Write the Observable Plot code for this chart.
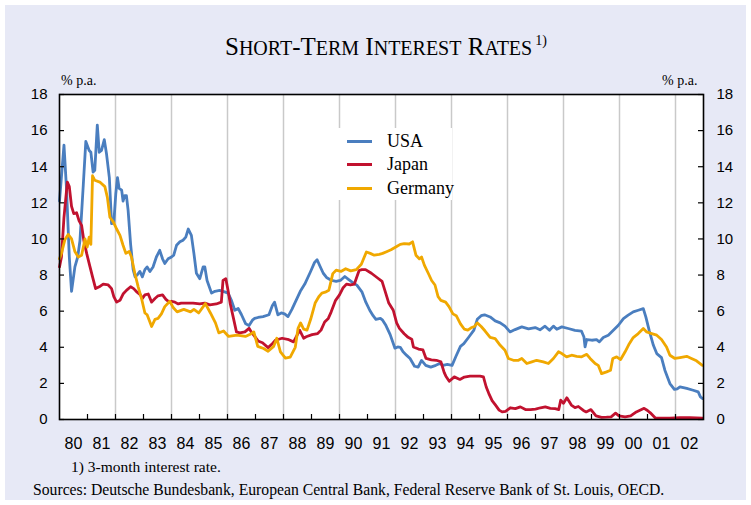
<!DOCTYPE html>
<html>
<head>
<meta charset="utf-8">
<script src="https://cdn.jsdelivr.net/npm/d3@7"></script>
<script src="https://cdn.jsdelivr.net/npm/@observablehq/plot@0.6"></script>
<style>
  body { margin: 0; background: #fff; }
  #wrap { position: relative; width: 751px; height: 505px; overflow: hidden; background: #fff; }
  #bg { position: absolute; left: 5px; top: 5px; width: 741px; height: 495px; background: #E7E9F6; }
  #chart { position: absolute; left: 0; top: 0; }
  .serif { font-family: "Liberation Serif", "Times New Roman", serif; color: #000; position: absolute; white-space: nowrap; }
  #title { left: 225px; top: 34px; font-size: 25px; line-height: 25px; }
  #title .sc { font-size: 20px; }
  #title sup { font-size: 14px; vertical-align: 10px; line-height: 0; margin-left: 3px; }
  .pa { font-size: 14px; top: 74px; line-height: 14px; }
  #legend { position: absolute; left: 338px; top: 128px; width: 114px; height: 72px; background: #fff; }
  .row { position: absolute; left: 0; width: 114px; height: 20px; }
  .sw { position: absolute; left: 9px; width: 25px; height: 3px; top: 9px; }
  .lt { position: absolute; left: 49px; top: 0; font-size: 18px; line-height: 20px; }
</style>
</head>
<body>
<div id="wrap">
  <div id="bg"></div>
  <div id="chart"></div>
  <div id="title" class="serif">S<span class="sc">HORT</span>-T<span class="sc">ERM</span> I<span class="sc">NTEREST</span> R<span class="sc">ATES</span><sup>1)</sup></div>
  <div class="serif pa" style="left:61px;">% p.a.</div>
  <div class="serif pa" style="left:662px;">% p.a.</div>
  <div id="legend"></div>
  <div class="serif" style="left:71px; top:459px; font-size:15.5px; line-height:16px;">1) 3-month interest rate.</div>
  <div class="serif" style="left:33px; top:481px; font-size:15.7px; line-height:17px;">Sources: Deutsche Bundesbank, European Central Bank, Federal Reserve Bank of St. Louis, OECD.</div>
</div>
<script>
// ---- data (decimal year, % p.a.) ----
const seriesNames = ["USA", "Japan", "Germany"];
const seriesColors = ["#4a7ebf", "#c1122f", "#f0a800"];

const usaDates = [1980.00,1980.16,1980.25,1980.35,1980.43,1980.55,1980.65,1980.73,1980.85,1980.94,1981.06,1981.12,1981.20,1981.26,1981.35,1981.42,1981.50,1981.60,1981.68,1981.78,1981.86,1981.94,1982.01,1982.07,1982.13,1982.22,1982.27,1982.33,1982.39,1982.45,1982.54,1982.63,1982.70,1982.77,1982.87,1982.96,1983.05,1983.13,1983.23,1983.34,1983.46,1983.58,1983.68,1983.76,1983.88,1984.00,1984.08,1984.18,1984.30,1984.41,1984.51,1984.60,1984.71,1984.80,1984.89,1985.01,1985.13,1985.19,1985.27,1985.43,1985.55,1985.72,1985.90,1986.02,1986.14,1986.26,1986.38,1986.50,1986.65,1986.77,1986.89,1986.97,1987.09,1987.27,1987.48,1987.60,1987.68,1987.80,1987.92,1988.04,1988.16,1988.30,1988.45,1988.60,1988.76,1988.96,1989.11,1989.20,1989.30,1989.42,1989.55,1989.72,1989.88,1990.03,1990.19,1990.33,1990.50,1990.62,1990.80,1990.94,1991.08,1991.20,1991.30,1991.46,1991.54,1991.66,1991.81,1991.98,1992.08,1992.17,1992.27,1992.40,1992.52,1992.68,1992.81,1992.93,1993.08,1993.26,1993.44,1993.58,1993.70,1993.85,1994.02,1994.16,1994.32,1994.44,1994.62,1994.80,1994.92,1995.06,1995.18,1995.38,1995.56,1995.74,1995.91,1996.09,1996.27,1996.51,1996.75,1996.99,1997.16,1997.34,1997.50,1997.64,1997.76,1997.94,1998.17,1998.41,1998.64,1998.73,1998.77,1998.83,1999.01,1999.18,1999.28,1999.42,1999.60,1999.78,1999.96,2000.14,2000.31,2000.49,2000.67,2000.85,2000.94,2001.06,2001.21,2001.33,2001.50,2001.62,2001.80,2001.96,2002.06,2002.16,2002.40,2002.63,2002.81,2002.89,2002.97];
const usaValues = [12.1,15.2,12.8,9.0,7.1,8.45,9.0,9.9,13.0,15.4,14.9,14.8,13.7,13.8,16.3,14.8,14.9,15.5,14.7,13.4,10.85,10.9,12.5,13.4,12.8,12.7,12.1,12.4,12.4,11.6,9.7,8.3,7.9,8.0,8.2,7.9,8.3,8.45,8.2,8.45,9.0,9.37,8.9,8.64,8.9,9.0,9.1,9.65,9.84,9.93,10.1,10.55,10.2,9.2,8.1,7.8,8.45,8.45,7.7,7.0,7.1,7.15,7.07,7.0,6.6,6.05,6.15,5.8,5.3,5.2,5.5,5.6,5.65,5.7,5.8,6.3,6.5,5.8,5.9,5.85,5.7,6.1,6.6,7.1,7.5,8.17,8.7,8.85,8.5,8.1,7.85,7.7,7.65,7.7,7.92,7.75,7.55,7.44,7.07,6.5,6.05,5.75,5.55,5.6,5.5,5.2,4.7,3.95,4.02,4.0,3.75,3.55,3.38,2.95,2.9,3.27,3.0,2.9,3.0,3.1,3.0,3.05,3.0,3.5,4.05,4.2,4.57,4.95,5.55,5.75,5.8,5.68,5.46,5.35,5.17,4.85,4.98,5.13,5.02,5.09,4.97,5.17,4.94,5.17,5.0,5.13,5.04,4.94,4.9,4.57,4.02,4.43,4.39,4.42,4.3,4.54,4.67,4.94,5.22,5.59,5.78,5.96,6.05,6.14,5.68,4.94,4.11,3.65,3.43,2.73,1.99,1.67,1.7,1.81,1.72,1.62,1.53,1.25,1.16];

const japanDates = [1980.00,1980.07,1980.16,1980.28,1980.35,1980.43,1980.51,1980.61,1980.70,1980.79,1980.87,1980.97,1981.09,1981.18,1981.29,1981.42,1981.56,1981.74,1981.86,1981.94,1982.04,1982.16,1982.27,1982.39,1982.54,1982.65,1982.77,1982.89,1982.96,1983.05,1983.17,1983.29,1983.41,1983.52,1983.68,1983.80,1983.92,1984.00,1984.12,1984.24,1984.35,1984.53,1984.77,1985.01,1985.19,1985.37,1985.60,1985.78,1985.84,1985.94,1986.02,1986.10,1986.20,1986.32,1986.44,1986.62,1986.77,1986.85,1986.97,1987.09,1987.25,1987.45,1987.60,1987.72,1987.95,1988.19,1988.36,1988.50,1988.58,1988.72,1988.81,1989.02,1989.22,1989.34,1989.47,1989.60,1989.70,1989.86,1990.00,1990.13,1990.25,1990.39,1990.53,1990.70,1990.80,1990.93,1991.14,1991.35,1991.52,1991.62,1991.76,1991.92,1992.04,1992.14,1992.31,1992.45,1992.58,1992.64,1992.82,1992.98,1993.09,1993.28,1993.46,1993.62,1993.74,1993.80,1993.92,1994.10,1994.30,1994.46,1994.66,1994.84,1995.02,1995.14,1995.24,1995.33,1995.45,1995.58,1995.70,1995.81,1995.93,1996.10,1996.28,1996.46,1996.64,1996.82,1997.00,1997.18,1997.35,1997.53,1997.70,1997.83,1997.90,1998.00,1998.12,1998.28,1998.41,1998.53,1998.71,1998.81,1998.98,1999.16,1999.36,1999.54,1999.70,1999.86,1999.98,2000.20,2000.40,2000.60,2000.88,2001.00,2001.10,2001.28,2001.50,2001.80,2002.16,2002.51,2002.97];
const japanValues = [8.45,9.0,11.2,13.15,12.9,11.8,11.4,11.45,11.0,10.75,9.9,9.2,8.45,7.9,7.25,7.35,7.5,7.45,7.25,6.8,6.5,6.6,6.95,7.15,7.35,7.25,7.05,6.9,6.7,6.9,6.95,6.5,6.7,6.85,6.9,6.65,6.5,6.55,6.5,6.4,6.45,6.45,6.45,6.4,6.45,6.35,6.4,6.5,7.7,7.8,7.15,6.4,5.7,4.85,4.8,4.85,5.05,4.85,4.6,4.35,4.25,3.98,4.2,4.4,4.5,4.42,4.3,4.72,4.94,4.5,4.58,4.7,4.76,4.95,5.4,5.6,5.95,6.6,6.9,7.3,7.5,7.45,7.5,8.25,8.3,8.3,8.1,7.85,7.65,7.15,6.45,6.05,5.35,5.05,4.75,4.55,4.45,4.02,3.9,3.85,3.38,3.3,3.28,3.2,2.6,2.4,2.12,2.36,2.22,2.35,2.4,2.4,2.4,2.36,1.8,1.45,1.05,0.78,0.52,0.42,0.45,0.65,0.6,0.7,0.55,0.55,0.58,0.65,0.7,0.62,0.6,0.55,1.07,0.9,1.2,0.8,0.66,0.72,0.5,0.42,0.55,0.2,0.12,0.13,0.15,0.35,0.2,0.15,0.2,0.42,0.62,0.5,0.37,0.08,0.07,0.08,0.1,0.1,0.08];

const germanyDates = [1980.00,1980.07,1980.19,1980.31,1980.43,1980.55,1980.67,1980.79,1980.91,1980.99,1981.06,1981.12,1981.18,1981.26,1981.44,1981.62,1981.71,1981.80,1981.92,1982.04,1982.16,1982.27,1982.37,1982.49,1982.57,1982.69,1982.81,1982.93,1983.05,1983.13,1983.29,1983.41,1983.52,1983.64,1983.76,1983.94,1984.06,1984.20,1984.44,1984.68,1984.80,1984.97,1985.21,1985.39,1985.57,1985.69,1985.86,1986.04,1986.34,1986.64,1986.85,1986.94,1987.08,1987.29,1987.45,1987.65,1987.76,1987.89,1988.07,1988.24,1988.42,1988.52,1988.61,1988.72,1988.84,1988.97,1989.13,1989.26,1989.37,1989.49,1989.62,1989.76,1989.88,1990.05,1990.22,1990.40,1990.60,1990.78,1990.96,1991.10,1991.24,1991.42,1991.54,1991.66,1991.84,1992.01,1992.17,1992.31,1992.49,1992.61,1992.73,1992.85,1992.93,1993.03,1993.17,1993.29,1993.41,1993.52,1993.62,1993.79,1993.91,1994.05,1994.17,1994.32,1994.46,1994.58,1994.70,1994.82,1994.92,1995.06,1995.20,1995.38,1995.56,1995.74,1995.91,1996.03,1996.21,1996.39,1996.51,1996.69,1996.87,1997.04,1997.28,1997.46,1997.64,1997.82,1997.94,1998.11,1998.29,1998.47,1998.65,1998.83,1998.95,1999.13,1999.24,1999.36,1999.54,1999.68,1999.76,1999.90,2000.04,2000.20,2000.35,2000.49,2000.67,2000.85,2000.97,2001.15,2001.33,2001.50,2001.68,2001.80,2001.98,2002.16,2002.40,2002.57,2002.75,2002.96];
const germanyValues = [8.9,9.2,9.95,10.25,10.0,9.3,9.0,9.1,10.0,9.55,10.1,9.7,13.5,13.25,13.15,12.9,12.3,11.2,10.95,10.55,10.2,9.65,9.2,9.3,9.0,8.1,7.35,6.7,5.9,5.8,5.15,5.55,5.6,5.85,6.25,6.55,6.2,5.96,6.1,5.96,6.1,5.9,6.42,5.9,5.35,4.8,4.9,4.6,4.67,4.6,4.75,4.85,4.05,3.93,3.78,4.05,4.5,3.75,3.4,3.45,4.0,5.05,5.35,5.0,4.95,5.55,6.45,6.8,7.0,7.05,7.16,8.08,8.27,8.2,8.35,8.23,8.3,8.6,9.28,9.2,9.1,9.15,9.2,9.28,9.4,9.55,9.7,9.74,9.72,9.84,9.1,8.9,9.0,8.55,8.1,7.7,7.45,6.8,6.6,6.5,6.25,5.85,5.75,5.3,5.0,4.95,5.08,5.15,5.35,5.15,4.9,4.55,4.48,4.11,3.84,3.38,3.28,3.28,3.38,3.1,3.19,3.28,3.19,3.1,3.38,3.75,3.65,3.47,3.56,3.5,3.47,3.61,3.38,3.1,3.0,2.54,2.64,2.73,3.38,3.47,3.32,3.75,4.2,4.54,4.76,5.04,4.85,4.76,4.67,4.43,4.02,3.56,3.38,3.43,3.5,3.38,3.25,3.0];

const yTicks = [0, 2, 4, 6, 8, 10, 12, 14, 16, 18];
const yearLabels = d3.range(1980, 2003);                 // labelled years 80 ... 02
const yearBoundaries = d3.range(1981, 2003);             // tick marks at year starts
const gridYears = d3.range(1982, 2003, 2);               // vertical grid lines

// ---- layout ----
const W = 751, H = 505, mT = 94, mB = 86, mL = 59, mR = 48;
const frameW = W - mL - mR, frameH = H - mT - mB;

const allSeries = [
  {name: seriesNames[0], dates: usaDates, values: usaValues, color: seriesColors[0]},
  {name: seriesNames[1], dates: japanDates, values: japanValues, color: seriesColors[1]},
  {name: seriesNames[2], dates: germanyDates, values: germanyValues, color: seriesColors[2]}
];

const lineMarks = allSeries.map(s =>
  Plot.line(s.dates.map((d, i) => ({date: d, value: s.values[i]})),
    {x: "date", y: "value", stroke: s.color, strokeWidth: 2.8, strokeLinejoin: "round"}));

const chart = Plot.plot({
  width: W, height: H,
  marginTop: mT, marginBottom: mB, marginLeft: mL, marginRight: mR,
  x: {domain: [1980, 2003]},
  y: {domain: [0, 18]},
  style: {background: "transparent", color: "#000", fontFamily: "'Liberation Sans', Arial, sans-serif"},
  marks: [
    Plot.frame({fill: "white", stroke: null}),
    Plot.ruleX(gridYears, {x: d => d, stroke: "#c9c9c9", strokeWidth: 1.5}),
    ...lineMarks,
    Plot.tickX(yearBoundaries, {x: d => d, insetTop: frameH - 5, stroke: "#000", strokeWidth: 1.2}),
    Plot.tickY(yTicks, {y: d => d, insetRight: frameW - 5, stroke: "#000", strokeWidth: 1.2}),
    Plot.tickY(yTicks, {y: d => d, insetLeft: frameW - 5, stroke: "#000", strokeWidth: 1.2}),
    Plot.frame({stroke: "#000", strokeWidth: 1.6}),
    Plot.axisY(yTicks, {anchor: "left", tickSize: 0, tickPadding: 12, label: null, fontSize: 15, tickFormat: d => String(d)}),
    Plot.axisY(yTicks, {anchor: "right", tickSize: 0, tickPadding: 13, label: null, fontSize: 15, tickFormat: d => String(d)}),
    Plot.axisX(yearLabels.map(y => y + 0.5), {anchor: "bottom", tickSize: 0, tickPadding: 18, label: null, fontSize: 16,
      tickFormat: d => String(Math.floor(d)).slice(-2)})
  ]
});
document.getElementById("chart").appendChild(chart);

// ---- legend (HTML, white box over the grid) ----
const legend = document.getElementById("legend");
const rowTops = [3, 26, 50];
allSeries.forEach((s, i) => {
  const row = document.createElement("div");
  row.className = "row";
  row.style.top = rowTops[i] + "px";
  const sw = document.createElement("div");
  sw.className = "sw";
  sw.style.background = s.color;
  const t = document.createElement("div");
  t.className = "lt serif";
  t.textContent = s.name;
  row.appendChild(sw);
  row.appendChild(t);
  legend.appendChild(row);
});
</script>
</body>
</html>
